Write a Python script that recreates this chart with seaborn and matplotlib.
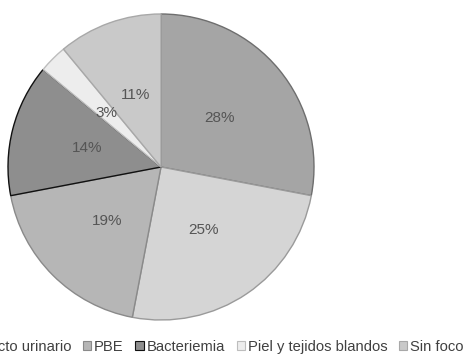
import matplotlib
matplotlib.use("Agg")
import matplotlib.pyplot as plt
import seaborn as sns

categories = ["Respiratorio", "Tracto urinario", "PBE", "Bacteriemia",
              "Piel y tejidos blandos", "Sin foco"]
values = [28, 25, 19, 14, 3, 11]
colors = ["#a5a5a5", "#d5d5d5", "#b6b6b6", "#8e8e8e", "#ededed", "#c9c9c9"]
edges = ["#6e6e6e", "#9a9a9a", "#8a8a8a", "#111111", "#bdbdbd", "#a8a8a8"]

sns.set_theme(style="white")
plt.rcParams['font.family'] = ['Liberation Sans', 'DejaVu Sans']

W, H = 466, 359
fig = plt.figure(figsize=(W / 100, H / 100), dpi=100)
ax = fig.add_axes([8 / W, (H - 320) / H, 306 / W, 306 / H])

wedges, texts, autotexts = ax.pie(
    values, colors=colors, startangle=90, counterclock=False,
    autopct=lambda p: f"{p:.0f}%", pctdistance=0.5,
    wedgeprops=dict(linewidth=1.0),
    textprops=dict(color="#555555", fontsize=11))
for w, e in zip(wedges, edges):
    w.set_edgecolor(e)
ax.set_xlim(-1.0, 1.0)
ax.set_ylim(-1.0, 1.0)
ax.set_aspect("equal")

ycen = 1 - 347 / H
leg = fig.legend(wedges, categories, loc="center left", ncol=6,
                 bbox_to_anchor=(0.0, ycen), frameon=False,
                 handlelength=0.55, handleheight=0.55, handletextpad=0.2,
                 columnspacing=0.8, fontsize=10.6, labelcolor="#404040",
                 borderpad=0, borderaxespad=0)
for h in leg.legend_handles:
    h.set_linewidth(0.8)

# shift legend so that the third marker (PBE) starts near x=83 px, as in the reference
fig.canvas.draw()
renderer = fig.canvas.get_renderer()
x_pbe = leg.legend_handles[2].get_window_extent(renderer).x0
leg.set_bbox_to_anchor(((83 - x_pbe) / W, ycen), transform=fig.transFigure)

fig.savefig("out.png", dpi=100)
